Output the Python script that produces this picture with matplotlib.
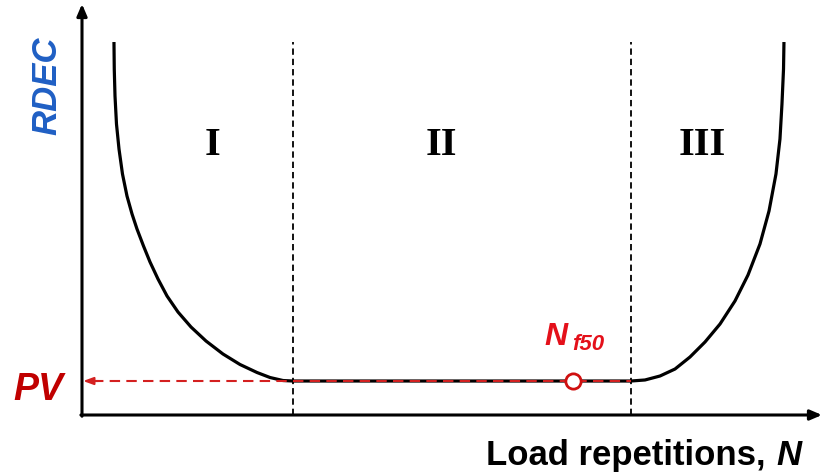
import matplotlib.pyplot as plt

# RDEC vs load repetitions (schematic), x and y in % of axis length
curve_x = [4.32, 4.36, 4.46, 4.66, 5.00, 5.47, 6.08, 6.76, 7.43, 8.31, 9.19,
           10.27, 11.49, 12.97, 14.73, 16.76, 19.05, 21.35, 23.65, 25.41,
           27.16, 28.51,
           74.19, 76.08, 78.11, 80.14, 82.16, 84.19, 86.22, 88.24, 90.00,
           91.62, 92.84, 93.78, 94.32, 94.59, 94.80, 94.86]
curve_y = [90.75, 84.18, 77.62, 70.80, 64.72, 58.64, 53.28, 48.91, 45.26,
           41.12, 37.23, 33.09, 28.95, 25.06, 21.41, 18.00, 14.84, 12.29,
           10.34, 9.12, 8.39, 8.27,
           8.27, 8.52, 9.49, 11.19, 14.11, 17.76, 22.14, 27.74, 34.06,
           41.61, 49.64, 58.64, 67.15, 75.67, 84.18, 90.75]

stage_bounds = [28.5, 74.2]
stage_labels = ['I', 'II', 'III']
stage_label_x = [17.7, 48.6, 83.8]
pv_value = 8.27
nf50_x = 66.4

fig = plt.figure(figsize=(8.23, 4.77), dpi=100)
ax = fig.add_axes([82 / 823, 61 / 477, 740 / 823, 411 / 477])
ax.set_xlim(0, 100)
ax.set_ylim(0, 100)
ax.axis('off')

# axes with arrow heads
arrow = dict(arrowstyle='-|>,head_length=0.7,head_width=0.3', lw=2.2,
             color='black', shrinkA=0, shrinkB=0)
ax.annotate('', xy=(0, 100), xytext=(0, -0.3), arrowprops=arrow,
            annotation_clip=False)
ax.annotate('', xy=(100, 0), xytext=(-0.15, 0), arrowprops=arrow,
            annotation_clip=False)

# stage boundaries
for xb in stage_bounds:
    ax.plot([xb, xb], [0, curve_y[0]], color='black', lw=1.3,
            dashes=(3.5, 2.2), clip_on=False)

ax.plot(curve_x, curve_y, color='black', lw=2.3, solid_joinstyle='round',
        solid_capstyle='butt', clip_on=False)

# plateau value projected onto the RDEC axis
red = '#d42020'
ax.plot([1.5, stage_bounds[1]], [pv_value, pv_value], color=red, lw=1.5,
        dashes=(5, 3), clip_on=False)
ax.annotate('', xy=(0.15, pv_value), xytext=(2.2, pv_value),
            arrowprops=dict(arrowstyle='-|>,head_length=0.6,head_width=0.22',
                            lw=1.5, color=red, shrinkA=0, shrinkB=0),
            annotation_clip=False)
ax.plot([nf50_x], [pv_value], marker='o', ms=11, mfc='white', mec='#d01010',
        mew=2, clip_on=False, zorder=5)

for lbl, xl in zip(stage_labels, stage_label_x):
    ax.text(xl, 63.5, lbl, ha='center', va='baseline', fontsize=29,
            fontweight='bold', family='Liberation Serif')

sans = 'Liberation Sans'
ax.text(-4.7, 80.3, 'RDEC', rotation=90, ha='center', va='center',
        fontsize=25, fontweight='bold', style='italic', color='#1f5fc4',
        family=sans)
ax.text(-9.3, 3.9, 'PV', ha='left', va='baseline', fontsize=27,
        fontweight='bold', style='italic', color='#c00000', family=sans)
ax.text(62.5, 17.3, 'N', ha='left', va='baseline', fontsize=23,
        fontweight='bold', style='italic', color='#e4101a', family=sans)
ax.text(66.2, 16.0, 'f50', ha='left', va='baseline', fontsize=16,
        fontweight='bold', style='italic', color='#e4101a', family=sans)

ax.text(54.6, -11.9, 'Load repetitions,', ha='left', va='baseline',
        fontsize=25, fontweight='bold', family=sans)
ax.text(93.9, -11.9, 'N', ha='left', va='baseline', fontsize=25,
        fontweight='bold', style='italic', family=sans)

fig.savefig('out.png', dpi=100)
